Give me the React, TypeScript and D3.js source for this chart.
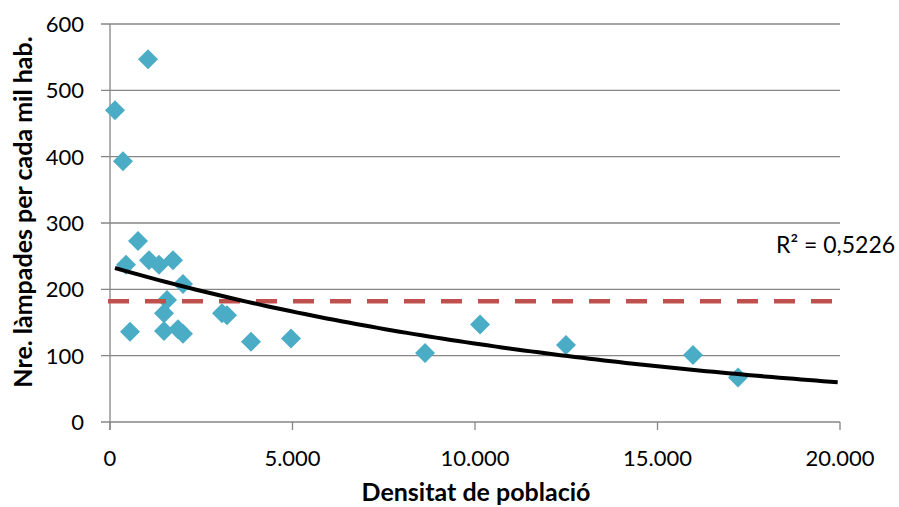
import React, { useEffect, useRef } from 'react';
import * as d3 from 'd3';

// densitat de població (hab/km2) i làmpades per cada mil habitants
const densitat = [
  137, 356, 1041, 438, 548, 767, 1069, 1343, 1726, 2000, 1562, 1480,
  1480, 1863, 2000, 3069, 3206, 3863, 4959, 8631, 10138, 12494, 15973, 17205,
];
const lampades = [
  470, 393, 547, 237, 136, 273, 244, 237, 244, 208, 184, 164,
  137, 140, 133, 164, 161, 121, 126, 104, 147, 116, 101, 67,
];
const mitjana = 182;
const xTicks = [0, 5000, 10000, 15000, 20000];
const yTicks = [0, 100, 200, 300, 400, 500, 600];
const r2Label = 'R² = 0,5226';
const xTitle = 'Densitat de població';
const yTitle = 'Nre. làmpades per cada mil hab.';

const W = 899;
const H = 507;
const FONT = 'Lato, "Open Sans", sans-serif';

const App = () => {
  const ref = useRef<SVGGElement>(null);

  useEffect(() => {
    const g = d3.select(ref.current);
    g.selectAll('*').remove();

    const x = d3.scaleLinear().domain([0, 20000]).range([110, 840]);
    const y = d3.scaleLinear().domain([0, 600]).range([422, 24]);
    const fmt = d3
      .formatLocale({ decimal: ',', thousands: '.', grouping: [3], currency: ['', ''] })
      .format(',d');

    // gridlines + y ticks
    g.selectAll('line.grid')
      .data(yTicks)
      .enter()
      .append('line')
      .attr('class', 'grid')
      .attr('x1', 101)
      .attr('x2', 840)
      .attr('y1', d => y(d))
      .attr('y2', d => y(d))
      .attr('stroke', '#868686')
      .attr('stroke-width', 1.3);

    g.append('line')
      .attr('x1', x(0))
      .attr('x2', x(0))
      .attr('y1', y(600))
      .attr('y2', y(0) + 8)
      .attr('stroke', '#868686')
      .attr('stroke-width', 1.3);

    g.selectAll('line.xtick')
      .data(xTicks)
      .enter()
      .append('line')
      .attr('class', 'xtick')
      .attr('x1', d => x(d))
      .attr('x2', d => x(d))
      .attr('y1', y(0))
      .attr('y2', y(0) + 8)
      .attr('stroke', '#868686')
      .attr('stroke-width', 1.3);

    g.selectAll('text.ylab')
      .data(yTicks)
      .enter()
      .append('text')
      .attr('class', 'ylab')
      .attr('x', 84)
      .attr('y', d => y(d) + 8)
      .attr('text-anchor', 'end')
      .style('font-family', FONT)
      .style('font-size', '22px')
      .text(d => d);

    g.selectAll('text.xlab')
      .data(xTicks)
      .enter()
      .append('text')
      .attr('class', 'xlab')
      .attr('x', d => x(d))
      .attr('y', 466)
      .attr('text-anchor', 'middle')
      .style('font-family', FONT)
      .style('font-size', '22px')
      .text(d => fmt(d));

    // punts
    const diamond = d3.symbol().type(d3.symbolSquare).size(200);
    g.selectAll('path.pt')
      .data(densitat.map((d, i) => [d, lampades[i]]))
      .enter()
      .append('path')
      .attr('class', 'pt')
      .attr('d', diamond)
      .attr('transform', d => `translate(${x(d[0])},${y(d[1])}) rotate(45)`)
      .attr('fill', '#4BACC6');

    // línia de mitjana
    g.append('line')
      .attr('x1', x(0) - 2)
      .attr('x2', x(20000))
      .attr('y1', y(mitjana))
      .attr('y2', y(mitjana))
      .attr('stroke', '#C0504D')
      .attr('stroke-width', 4.5)
      .attr('stroke-dasharray', '21,16');

    // tendència exponencial (regressió sobre ln y)
    const lx = densitat;
    const ly = lampades.map(v => Math.log(v));
    const mx = d3.mean(lx) as number;
    const my = d3.mean(ly) as number;
    const b =
      (d3.sum(lx, (v, i) => (v - mx) * (ly[i] - my)) as number) /
      (d3.sum(lx, v => (v - mx) * (v - mx)) as number);
    const a = Math.exp(my - b * mx);
    const xs = d3.range(d3.min(densitat) as number, 20001, 200);
    const line = d3
      .line<number>()
      .x(d => x(d))
      .y(d => y(a * Math.exp(b * d)));
    g.append('path')
      .attr('d', line(xs))
      .attr('fill', 'none')
      .attr('stroke', '#000')
      .attr('stroke-width', 4);

    g.append('text')
      .attr('x', 776)
      .attr('y', 253)
      .style('font-family', FONT)
      .style('font-size', '23px')
      .text(r2Label);

    g.append('text')
      .attr('x', 476)
      .attr('y', 501)
      .attr('text-anchor', 'middle')
      .style('font-family', FONT)
      .style('font-size', '25px')
      .style('font-weight', 'bold')
      .text(xTitle);

    g.append('text')
      .attr('transform', 'translate(32,212) rotate(-90)')
      .attr('text-anchor', 'middle')
      .style('font-family', FONT)
      .style('font-size', '25px')
      .style('font-weight', 'bold')
      .text(yTitle);
  }, []);

  return (
    <svg
      width={W}
      height={H}
      style={{ position: 'absolute', left: 0, top: 0, background: '#fff' }}
    >
      <g ref={ref} />
    </svg>
  );
};

export default App;
